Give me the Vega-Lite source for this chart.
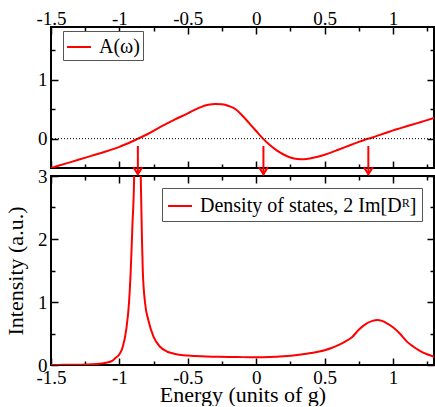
{
  "$schema": "https://vega.github.io/schema/vega-lite/v6.json",
  "autosize": {"type": "pad"},
  "padding": {"left": 3, "top": 5, "right": 0, "bottom": 0},
  "background": "white",
  "bounds": "flush",
  "config": {
    "font": "Liberation Serif, Times New Roman, DejaVu Serif, serif",
    "view": {"stroke": "black", "strokeWidth": 2},
    "axis": {"domain": false, "grid": false, "tickColor": "black", "tickWidth": 1.5, "labelFont": "Liberation Serif, Times New Roman, DejaVu Serif, serif", "labelFontSize": 19, "labelColor": "black", "titleFont": "Liberation Serif, Times New Roman, DejaVu Serif, serif", "titleFontSize": 22, "titleFontWeight": "normal", "titleColor": "black", "labelFlush": false, "labelOverlap": false},
    "legend": {"title": null, "symbolType": "stroke", "symbolStrokeWidth": 2, "symbolSize": 576, "labelFont": "Liberation Serif, Times New Roman, DejaVu Serif, serif", "labelFontSize": 20, "labelColor": "black", "labelLimit": 500, "strokeColor": "#555555", "fillColor": "white", "labelOffset": 7},
    "concat": {"spacing": 8}
  },
  "datasets": {
    "A": [
      {"x": -1.5, "y": -0.5}, {"x": -1.4, "y": -0.43}, {"x": -1.3, "y": -0.36}, {"x": -1.2, "y": -0.29},
      {"x": -1.1, "y": -0.22}, {"x": -1.0, "y": -0.14}, {"x": -0.9, "y": -0.04}, {"x": -0.8, "y": 0.07},
      {"x": -0.7, "y": 0.2}, {"x": -0.6, "y": 0.32}, {"x": -0.5, "y": 0.43}, {"x": -0.45, "y": 0.49},
      {"x": -0.4, "y": 0.54}, {"x": -0.35, "y": 0.575}, {"x": -0.3, "y": 0.59}, {"x": -0.25, "y": 0.585},
      {"x": -0.2, "y": 0.555}, {"x": -0.15, "y": 0.5}, {"x": -0.1, "y": 0.39}, {"x": -0.05, "y": 0.26},
      {"x": 0.0, "y": 0.13}, {"x": 0.05, "y": 0.0}, {"x": 0.1, "y": -0.11}, {"x": 0.15, "y": -0.2},
      {"x": 0.2, "y": -0.27}, {"x": 0.25, "y": -0.32}, {"x": 0.3, "y": -0.345}, {"x": 0.35, "y": -0.35},
      {"x": 0.4, "y": -0.335}, {"x": 0.45, "y": -0.31}, {"x": 0.5, "y": -0.275}, {"x": 0.55, "y": -0.235},
      {"x": 0.6, "y": -0.19}, {"x": 0.65, "y": -0.145}, {"x": 0.7, "y": -0.1}, {"x": 0.75, "y": -0.055},
      {"x": 0.8, "y": -0.015}, {"x": 0.85, "y": 0.02}, {"x": 0.9, "y": 0.06}, {"x": 0.95, "y": 0.1},
      {"x": 1.0, "y": 0.14}, {"x": 1.05, "y": 0.175}, {"x": 1.1, "y": 0.21}, {"x": 1.15, "y": 0.245},
      {"x": 1.2, "y": 0.28}, {"x": 1.25, "y": 0.315}, {"x": 1.3, "y": 0.35}
    ],
    "D": [
      {"x": -1.5, "y": 0.0}, {"x": -1.4, "y": 0.002}, {"x": -1.3, "y": 0.005}, {"x": -1.2, "y": 0.012},
      {"x": -1.15, "y": 0.02}, {"x": -1.1, "y": 0.035}, {"x": -1.05, "y": 0.07}, {"x": -1.031, "y": 0.106},
      {"x": -1.0, "y": 0.17}, {"x": -0.975, "y": 0.29}, {"x": -0.95, "y": 0.56}, {"x": -0.93, "y": 0.98},
      {"x": -0.917, "y": 1.5}, {"x": -0.905, "y": 2.2}, {"x": -0.892, "y": 3.0}, {"x": -0.88, "y": 5.0},
      {"x": -0.868, "y": 7.0}, {"x": -0.856, "y": 5.0}, {"x": -0.844, "y": 3.0}, {"x": -0.835, "y": 2.0},
      {"x": -0.829, "y": 1.5}, {"x": -0.812, "y": 0.98}, {"x": -0.788, "y": 0.71}, {"x": -0.751, "y": 0.45},
      {"x": -0.703, "y": 0.29}, {"x": -0.65, "y": 0.21}, {"x": -0.6, "y": 0.18}, {"x": -0.55, "y": 0.16},
      {"x": -0.5, "y": 0.15}, {"x": -0.4, "y": 0.138}, {"x": -0.3, "y": 0.132}, {"x": -0.2, "y": 0.128},
      {"x": -0.1, "y": 0.125}, {"x": 0.0, "y": 0.124}, {"x": 0.1, "y": 0.128}, {"x": 0.2, "y": 0.14},
      {"x": 0.3, "y": 0.16}, {"x": 0.4, "y": 0.19}, {"x": 0.5, "y": 0.235}, {"x": 0.55, "y": 0.27},
      {"x": 0.6, "y": 0.315}, {"x": 0.65, "y": 0.37}, {"x": 0.7, "y": 0.44}, {"x": 0.75, "y": 0.56},
      {"x": 0.8, "y": 0.65}, {"x": 0.85, "y": 0.7}, {"x": 0.885, "y": 0.715}, {"x": 0.92, "y": 0.7},
      {"x": 0.95, "y": 0.67}, {"x": 1.0, "y": 0.6}, {"x": 1.05, "y": 0.5}, {"x": 1.1, "y": 0.375},
      {"x": 1.15, "y": 0.29}, {"x": 1.2, "y": 0.22}, {"x": 1.25, "y": 0.17}, {"x": 1.3, "y": 0.13}
    ],
    "arrows": [
      {"x": -0.865, "top": -0.125, "bottom": -0.613, "tip": 3.03},
      {"x": 0.053, "top": -0.125, "bottom": -0.613, "tip": 3.03},
      {"x": 0.82, "top": -0.125, "bottom": -0.613, "tip": 3.03}
    ]
  },
  "resolve": {"scale": {"color": "independent", "x": "independent", "y": "independent"}, "legend": {"color": "independent"}},
  "vconcat": [
    {
      "width": 383,
      "height": 141,
      "resolve": {"axis": {"x": "independent", "y": "independent"}},
      "layer": [
        {
          "data": {"name": "A"},
          "mark": {"type": "line", "strokeWidth": 2, "clip": true, "interpolate": "monotone"},
          "encoding": {
            "x": {"field": "x", "type": "quantitative", "scale": {"domain": [-1.5, 1.3], "nice": false, "zero": false},
              "axis": {"orient": "top", "title": null, "values": [-1.5, -1.25, -1, -0.75, -0.5, -0.25, 0, 0.25, 0.5, 0.75, 1, 1.25],
                "labelExpr": "datum.value*2 == round(datum.value*2) ? '' + datum.value : ''",
                "labelFont": "Liberation Serif, Times New Roman, DejaVu Serif, serif",
                "tickSize": {"condition": {"test": "datum.value*2 == round(datum.value*2)", "value": -7}, "value": -4},
                "labelPadding": 10, "labelBaseline": "alphabetic"}},
            "y": {"field": "y", "type": "quantitative", "scale": {"domain": [-0.5, 1.9], "nice": false, "zero": false},
              "axis": {"orient": "left", "title": null, "values": [0, 0.5, 1, 1.5],
                "labelExpr": "datum.value == round(datum.value) ? '' + datum.value : ''",
                "labelFont": "Liberation Serif, Times New Roman, DejaVu Serif, serif",
                "tickSize": {"condition": {"test": "datum.value == round(datum.value)", "value": -7}, "value": -4},
                "labelPadding": 11}},
            "color": {"datum": "A(ω)", "type": "nominal", "scale": {"range": ["red"]},
              "legend": {"orient": "none", "legendX": 12, "legendY": 4, "padding": 3}}
          }
        },
        {
          "data": {"values": [{"y": 0}]},
          "mark": {"type": "rule", "color": "black", "strokeWidth": 1, "strokeDash": [1, 2]},
          "encoding": {
            "y": {"field": "y", "type": "quantitative", "axis": null}
          }
        },
        {
          "data": {"name": "arrows"},
          "mark": {"type": "rule", "color": "red", "strokeWidth": 2, "clip": false},
          "encoding": {
            "x": {"field": "x", "type": "quantitative",
              "axis": {"orient": "bottom", "title": null, "labels": false, "values": [-1.5, -1.25, -1, -0.75, -0.5, -0.25, 0, 0.25, 0.5, 0.75, 1, 1.25],
                "tickSize": {"condition": {"test": "datum.value*2 == round(datum.value*2)", "value": -7}, "value": -4}}},
            "y": {"field": "top", "type": "quantitative",
              "axis": {"orient": "right", "title": null, "labels": false, "values": [0, 0.5, 1, 1.5],
                "tickSize": {"condition": {"test": "datum.value == round(datum.value)", "value": -7}, "value": -4}}},
            "y2": {"field": "bottom"}
          }
        }
      ]
    },
    {
      "width": 383,
      "height": 189,
      "resolve": {"axis": {"x": "independent", "y": "independent"}},
      "layer": [
        {
          "data": {"name": "D"},
          "mark": {"type": "line", "strokeWidth": 2, "clip": true, "interpolate": "monotone"},
          "encoding": {
            "x": {"field": "x", "type": "quantitative", "scale": {"domain": [-1.5, 1.3], "nice": false, "zero": false},
              "axis": {"orient": "bottom", "title": "Energy (units of g)", "titlePadding": -6, "values": [-1.5, -1.25, -1, -0.75, -0.5, -0.25, 0, 0.25, 0.5, 0.75, 1, 1.25],
                "labelExpr": "datum.value*2 == round(datum.value*2) ? '' + datum.value : ''",
                "labelFont": "Liberation Serif, Times New Roman, DejaVu Serif, serif",
                "tickSize": {"condition": {"test": "datum.value*2 == round(datum.value*2)", "value": -7}, "value": -4},
                "labelPadding": 10}},
            "y": {"field": "y", "type": "quantitative", "scale": {"domain": [0, 3], "nice": false, "zero": false},
              "axis": {"orient": "left", "title": "Intensity (a.u.)", "titlePadding": 10, "values": [0, 0.5, 1, 1.5, 2, 2.5, 3],
                "labelExpr": "datum.value == round(datum.value) ? '' + datum.value : ''",
                "labelFont": "Liberation Serif, Times New Roman, DejaVu Serif, serif",
                "tickSize": {"condition": {"test": "datum.value == round(datum.value)", "value": -7}, "value": -4},
                "labelPadding": 11}},
            "color": {"datum": "Density of states, 2 Im[Dᴿ]", "type": "nominal", "scale": {"range": ["red"]},
              "legend": {"orient": "top-right", "offset": 12, "padding": 5}}
          }
        },
        {
          "data": {"name": "arrows"},
          "mark": {"type": "point", "shape": "M-0.64,-1L0,0L0.64,-1", "filled": false, "stroke": "red", "strokeWidth": 2, "size": 196, "opacity": 1, "clip": false},
          "encoding": {
            "x": {"field": "x", "type": "quantitative",
              "axis": {"orient": "top", "title": null, "labels": false, "values": [-1.5, -1.25, -1, -0.75, -0.5, -0.25, 0, 0.25, 0.5, 0.75, 1, 1.25],
                "tickSize": {"condition": {"test": "datum.value*2 == round(datum.value*2)", "value": -7}, "value": -4}}},
            "y": {"field": "tip", "type": "quantitative",
              "axis": {"orient": "right", "title": null, "labels": false, "values": [0, 0.5, 1, 1.5, 2, 2.5, 3],
                "tickSize": {"condition": {"test": "datum.value == round(datum.value)", "value": -7}, "value": -4}}}
          }
        }
      ]
    }
  ]
}
